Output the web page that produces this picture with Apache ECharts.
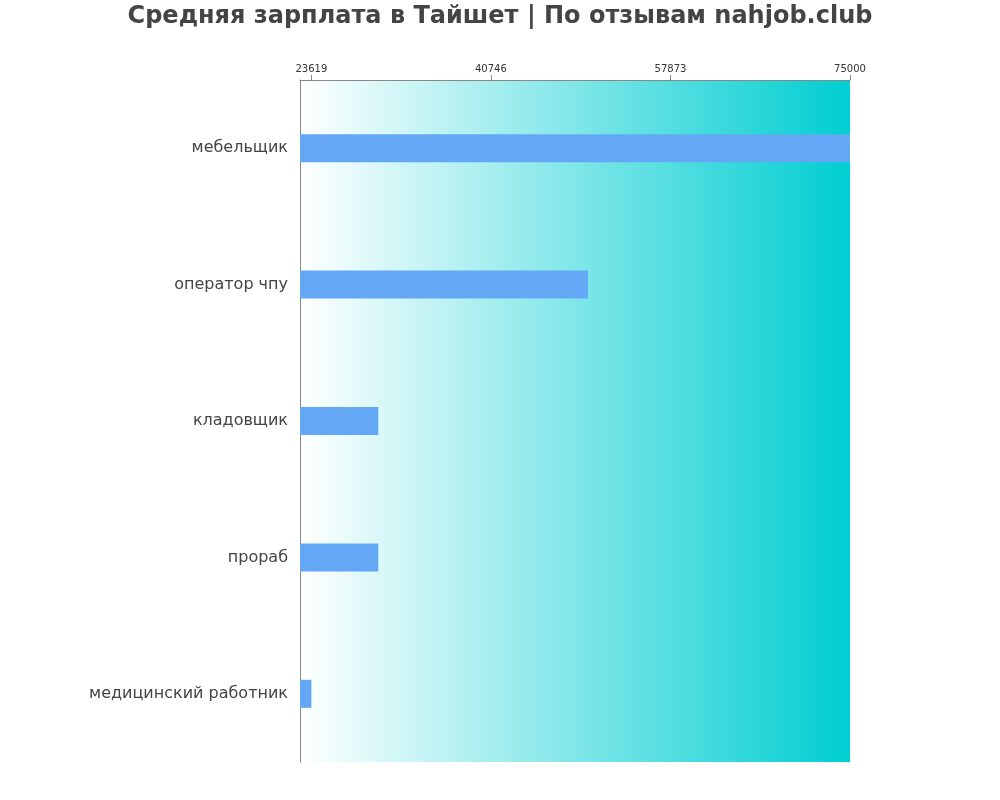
<!DOCTYPE html>
<html><head><meta charset="utf-8">
<script src="https://cdn.jsdelivr.net/npm/echarts@6/dist/echarts.min.js"></script>
<style>html,body{margin:0;padding:0;background:#fff}#c{width:1000px;height:800px}</style>
</head><body><div id="c"></div>
<script>
const categories = ['мебельщик', 'оператор чпу', 'кладовщик', 'прораб', 'медицинский работник'];
const salaries = [75000, 50000, 30000, 30000, 23619];
const tickValues = [23619, 40746, 57873, 75000];
const axisMin = 22534;
const axisMax = 75000;

const chart = echarts.init(document.getElementById('c'));
chart.setOption({
  animation: false,
  backgroundColor: '#fff',
  title: {
    text: 'Средняя зарплата в Тайшет | По отзывам nahjob.club',
    left: 'center', top: 0,
    textStyle: {fontFamily: 'DejaVu Sans', fontWeight: 'bold', fontSize: 24, color: '#444'}
  },
  grid: {
    left: 300, right: 150, top: 80, bottom: 38, show: true, borderWidth: 0,
    backgroundColor: new echarts.graphic.LinearGradient(0, 0, 1, 0, [
      {offset: 0, color: '#ffffff'}, {offset: 1, color: '#00ced1'}
    ])
  },
  xAxis: {
    type: 'value', position: 'top', min: axisMin, max: axisMax,
    axisLine: {show: true, lineStyle: {color: '#888'}},
    axisTick: {show: true, customValues: tickValues, length: 5, lineStyle: {color: '#888'}},
    axisLabel: {customValues: tickValues, fontFamily: 'DejaVu Sans', fontSize: 10, color: '#333', margin: 6,
      formatter: v => String(v)},
    splitLine: {show: false}
  },
  yAxis: {
    type: 'category', data: categories, inverse: true,
    axisLine: {show: true, lineStyle: {color: '#888'}},
    axisTick: {show: false},
    axisLabel: {fontFamily: 'DejaVu Sans', fontSize: 16, color: '#444', margin: 12}
  },
  series: [{
    type: 'bar', data: salaries, barWidth: 28,
    itemStyle: {color: '#64a8f5'}
  }]
});
</script></body></html>
